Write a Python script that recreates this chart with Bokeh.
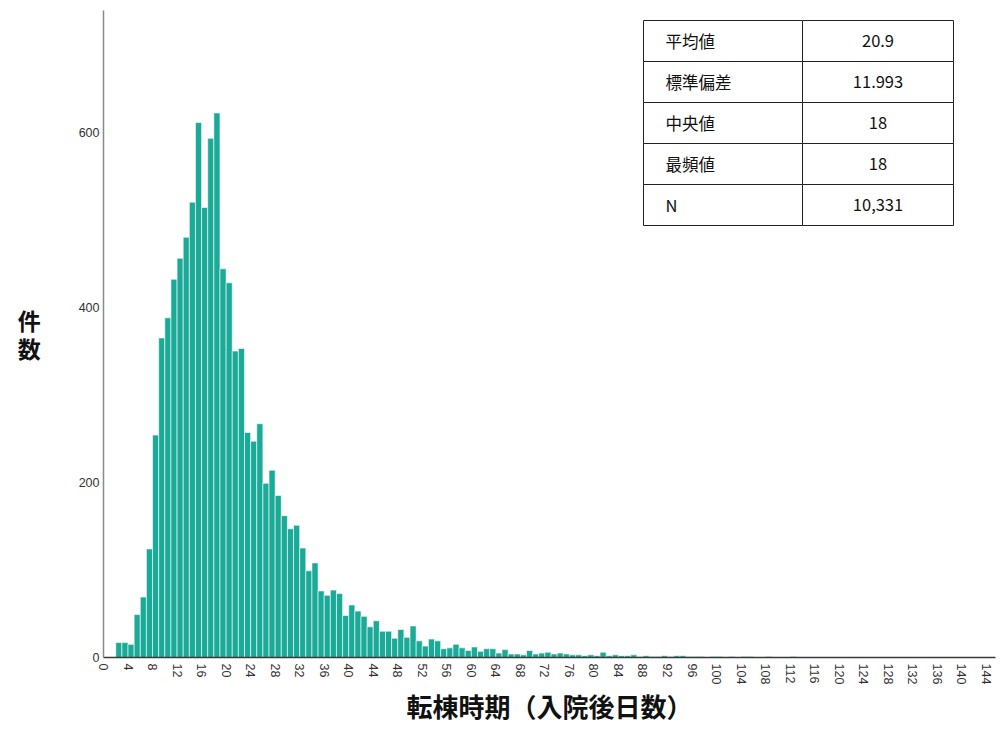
import math
from bokeh.plotting import figure
from bokeh.models import FixedTicker, Range1d, ColumnDataSource
from bokeh.core.properties import value
from bokeh.embed import file_html
from bokeh.resources import INLINE

# ---------------- data ----------------
first_day = 2
counts = [
    17, 17, 15, 49, 69, 124, 254, 365, 388, 432,      # 2-11
    456, 480, 520, 611, 514, 593, 622, 444, 428, 350,  # 12-21
    353, 257, 247, 267, 199, 214, 185, 162, 147, 151,  # 22-31
    125, 99, 108, 76, 71, 77, 73, 48, 60, 53,          # 32-41
    47, 35, 42, 30, 30, 22, 32, 23, 36, 19,            # 42-51
    13, 21, 19, 10, 11, 15, 11, 8, 12, 7,              # 52-61
    10, 10, 5, 9, 4, 4, 3, 8, 4, 5,                    # 62-71
    6, 4, 5, 4, 3, 3, 2, 3, 2, 6,                      # 72-81
    2, 3, 2, 2, 3, 1, 2, 1, 1, 2,                      # 82-91
    1, 2, 2, 1, 1, 1, 0, 1, 1, 0,                      # 92-101
    1, 0, 1, 1, 0, 0, 1, 0, 0, 0, 1,                   # 102-112
]
days = list(range(first_day, first_day + len(counts)))

x_ticks = [0, 4, 8, 12, 16, 20, 24, 28, 32, 36, 40, 44, 48, 52, 56, 60, 64, 68,
           72, 76, 80, 84, 88, 92, 96, 100, 104, 108, 112, 116, 120, 124, 128,
           132, 136, 140, 144]
y_ticks = [0, 200, 400, 600]

x_title = "転棟時期（入院後日数）"
y_title = "件\n数"

stat_names = ["平均値", "標準偏差", "中央値", "最頻値", "N"]
stat_values = ["20.9", "11.993", "18", "18", "10,331"]

# ---------------- layout ----------------
X_MAX, Y_MAX = 145.5, 739
FRAME_LEFT, FRAME_RIGHT, FRAME_TOP, FRAME_BOTTOM = 103, 995, 10, 657
W, H = 998, 742

def px_x(px):
    return (px - FRAME_LEFT) / (FRAME_RIGHT - FRAME_LEFT) * X_MAX

def px_y(py):
    return (FRAME_BOTTOM - py) / (FRAME_BOTTOM - FRAME_TOP) * Y_MAX

p = figure(width=W, height=H, output_backend="svg", toolbar_location=None,
           x_range=Range1d(0, X_MAX), y_range=Range1d(0, Y_MAX),
           min_border_left=FRAME_LEFT, min_border_right=W - FRAME_RIGHT,
           min_border_top=FRAME_TOP, min_border_bottom=H - FRAME_BOTTOM)
p.outline_line_color = None
p.xgrid.visible = False
p.ygrid.visible = False
p.background_fill_color = "white"
p.border_fill_color = "white"

src = ColumnDataSource(dict(left=days, right=[d + 1 for d in days], top=counts))
p.quad(left="left", right="right", bottom=0, top="top", source=src,
       fill_color="#1BAA97", line_color="white", line_width=0.6)

# axes
tick_font = "Liberation Sans"
p.xaxis.ticker = FixedTicker(ticks=x_ticks)
p.xaxis.major_label_orientation = -math.pi / 2
p.xaxis.major_label_text_font = tick_font
p.xaxis.major_label_text_font_size = "12.5px"
p.xaxis.major_label_text_color = "#333333"
p.xaxis.major_label_standoff = 6
p.xaxis.major_tick_line_color = None
p.xaxis.major_tick_out = 0
p.xaxis.major_tick_in = 0
p.xaxis.minor_tick_line_color = None
p.xaxis.axis_line_color = "#3a3a3a"
p.xaxis.axis_line_width = 1.5
p.xaxis.axis_label = x_title
p.xaxis.axis_label_text_font = "Noto Sans CJK JP"
p.xaxis.axis_label_text_font_style = "bold"
p.xaxis.axis_label_text_font_size = "26px"
p.xaxis.axis_label_text_line_height = 1.0
p.xaxis.axis_label_text_color = "#111111"
p.xaxis.axis_label_standoff = 0

p.yaxis.ticker = FixedTicker(ticks=y_ticks)
p.yaxis.major_label_text_font = tick_font
p.yaxis.major_label_text_font_size = "12.5px"
p.yaxis.major_label_text_color = "#333333"
p.yaxis.major_label_standoff = 4
p.yaxis.major_tick_line_color = None
p.yaxis.major_tick_out = 0
p.yaxis.major_tick_in = 0
p.yaxis.minor_tick_line_color = None
p.yaxis.axis_line_color = "#8a8a8a"
p.yaxis.axis_line_width = 1.5
p.yaxis.axis_label = y_title
p.yaxis.axis_label_orientation = "horizontal"
p.yaxis.axis_label_text_font = "Noto Sans CJK JP"
p.yaxis.axis_label_text_font_style = "bold"
p.yaxis.axis_label_text_font_size = "23px"
p.yaxis.axis_label_text_line_height = 0.85
p.yaxis.axis_label_text_color = "#111111"
p.yaxis.axis_label_standoff = 35

# statistics table (top right)
T_LEFT, T_MID, T_RIGHT, T_TOP, ROW_H = 643, 802, 953, 20, 41
rows = len(stat_names)
row_tops = [px_y(T_TOP + i * ROW_H) for i in range(rows)]
row_bots = [px_y(T_TOP + (i + 1) * ROW_H) for i in range(rows)]
row_mid = [px_y(T_TOP + (i + 0.5) * ROW_H) for i in range(rows)]
p.quad(left=[px_x(T_LEFT)] * rows, right=[px_x(T_MID)] * rows, top=row_tops, bottom=row_bots,
       fill_color="white", line_color="#222222", line_width=1)
p.quad(left=[px_x(T_MID)] * rows, right=[px_x(T_RIGHT)] * rows, top=row_tops, bottom=row_bots,
       fill_color="white", line_color="#222222", line_width=1)
p.text(x=[px_x(T_LEFT + 22)] * rows, y=row_mid, text=stat_names,
       text_font=value("Noto Sans CJK JP"), text_font_size="16.5px",
       text_align="left", text_baseline="middle", text_color="#111111")
p.text(x=[px_x((T_MID + T_RIGHT) / 2)] * rows, y=row_mid, text=stat_values,
       text_font=value("Noto Sans CJK JP"), text_font_size="16.5px",
       text_align="center", text_baseline="middle", text_color="#111111")

open("out.html", "w").write(file_html(p, INLINE))
